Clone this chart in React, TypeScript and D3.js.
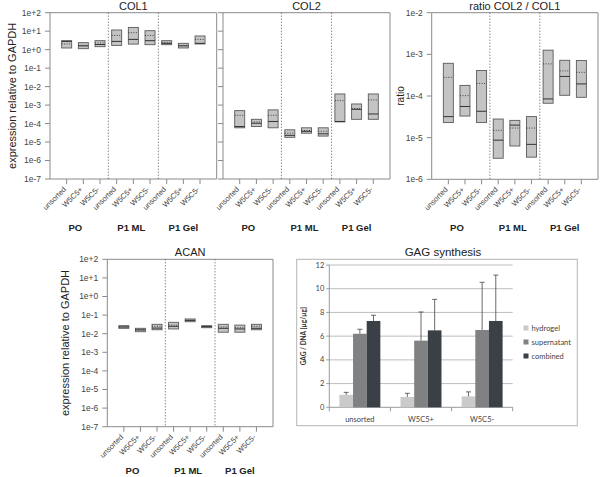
import React from "react";
import * as d3 from "d3";

const categories = ["unsorted", "W5C5+", "W5C5-"];
const groups = ["PO", "P1 ML", "P1 Gel"];
const groupLabelShift = [-8, -2, 0];

const exprTicks = ["1e+2", "1e+1", "1e+0", "1e-1", "1e-2", "1e-3", "1e-4", "1e-5", "1e-6", "1e-7"];
const ratioTicks = ["1e-2", "1e-3", "1e-4", "1e-5", "1e-6"];

const col1Min = [1.23, 1.13, 1.45, 1.7, 2.0, 1.86, 1.86, 1.23, 2.03];
const col1Max = [3.06, 2.39, 3.06, 11.6, 16, 10.6, 3.06, 2.2, 5.5];
const col1Median = [2.8, 1.6, 1.9, 2.8, 3.6, 3.06, 2.2, 1.6, 2.2];
const col1Mean = [2.04, 1.7, 2.3, 5.9, 8.3, 5.9, 2.39, 1.7, 3.6];

const col2Min = [5.9e-5, 6.9e-5, 5.9e-5, 1.8e-5, 3.0e-5, 2.1e-5, 1.23e-4, 1.7e-4, 1.7e-4];
const col2Max = [5e-4, 1.7e-4, 5.5e-4, 4.6e-5, 5.9e-5, 5.9e-5, 4.0e-3, 1.15e-3, 4.0e-3];
const col2Median = [6.9e-5, 1.04e-4, 1.3e-4, 2.3e-5, 3.8e-5, 2.8e-5, 1.3e-4, 5.9e-4, 3.3e-4];
const col2Mean = [2.8e-4, 1.23e-4, 2.8e-4, 3e-5, 4.2e-5, 3.8e-5, 1.75e-3, 6.5e-4, 1.9e-3];

const ratioMin = [2.3e-5, 3.3e-5, 2.3e-5, 3.2e-6, 6.3e-6, 3.4e-6, 6.7e-5, 1.04e-4, 9.3e-5];
const ratioMax = [6.1e-4, 1.8e-4, 4.1e-4, 2.8e-5, 2.6e-5, 3.2e-5, 1.26e-3, 7.2e-4, 7.1e-4];
const ratioMedian = [3.2e-5, 5.6e-5, 4.3e-5, 8.7e-6, 2.0e-5, 6.9e-6, 8.5e-5, 2.95e-4, 1.95e-4];
const ratioMean = [2.8e-4, 1.02e-4, 2.0e-4, 1.5e-5, 1.7e-5, 1.7e-5, 5.9e-4, 4.0e-4, 3.7e-4];

const acanMin = [0.0195, 0.0128, 0.0163, 0.018, 0.044, 0.021, 0.012, 0.012, 0.0163];
const acanMax = [0.027, 0.0195, 0.032, 0.041, 0.062, 0.027, 0.032, 0.029, 0.032];
const acanMedian = [0.023, 0.016, 0.02, 0.025, 0.052, 0.024, 0.0195, 0.018, 0.0195];
const acanMean = [0.023, 0.0163, 0.025, 0.029, 0.052, 0.024, 0.023, 0.021, 0.025];

const gagCategories = ["unsorted", "W5C5+", "W5C5-"];
const gagSeries = ["hydrogel", "supernatant", "combined"];
const hydrogel = [1.05, 0.88, 0.92];
const hydrogelErr = [0.21, 0.3, 0.38];
const supernatant = [6.2, 5.62, 6.52];
const supernatantErr = [0.38, 2.42, 4.02];
const combined = [7.28, 6.49, 7.28];
const combinedErr = [0.48, 2.61, 3.87];
const gagTicks = [0, 2, 4, 6, 8, 10, 12];

const FONT = "'Liberation Sans', Arial, sans-serif";
const AX = "#8a8a8a";

type PanelProps = {
  x0: number; x1: number; yTop: number; yBot: number;
  domain: [number, number];
  tickLabels: string[];
  showTickLabels: boolean;
  mins: number[]; maxs: number[]; medians: number[]; means: number[];
  title: string;
  ylabel?: string; ylabelX?: number; ylabelSize?: number;
  groupY: number;
  catSize: number;
};

function BoxPanel(p: PanelProps) {
  const y = d3.scaleLog().domain(p.domain).range([p.yBot, p.yTop]);
  const idx = d3.range(9);
  const x = d3.scalePoint<number>().domain(idx).range([p.x0, p.x1]).padding(1);
  const bw = 10;
  const tickVals = p.tickLabels.map((t) => +t);
  const dividers = [2, 5].map((i) => (x(i)! + x(i + 1)!) / 2);
  return (
    <g>
      <line x1={p.x0} x2={p.x1} y1={p.yTop} y2={p.yTop} stroke={AX} strokeWidth={1} />
      <line x1={p.x1} x2={p.x1} y1={p.yTop} y2={p.yBot} stroke={AX} strokeWidth={1} />
      <line x1={p.x0} x2={p.x0} y1={p.yTop} y2={p.yBot} stroke={AX} strokeWidth={1} />
      <line x1={p.x0} x2={p.x1} y1={p.yBot} y2={p.yBot} stroke={AX} strokeWidth={1} />
      {tickVals.map((v, i) => (
        <g key={i}>
          <line x1={p.x0 - 5} x2={p.x0} y1={y(v)} y2={y(v)} stroke={AX} />
          {p.showTickLabels && (
            <text x={p.x0 - 9} y={y(v)} dy="0.35em" textAnchor="end" fontSize={8.5} fill="#444" fontFamily={FONT}>
              {p.tickLabels[i]}
            </text>
          )}
        </g>
      ))}
      {dividers.map((dx, i) => (
        <line key={i} x1={dx} x2={dx} y1={p.yTop} y2={p.yBot} stroke="#555" strokeWidth={1} strokeDasharray="1,2" />
      ))}
      {idx.map((i) => {
        const cx = x(i)!;
        const yMax = y(p.maxs[i]);
        const yMin = y(p.mins[i]);
        return (
          <g key={i}>
            <rect x={cx - bw / 2} y={yMax} width={bw} height={Math.max(1.5, yMin - yMax)} fill="#c4c4c4" stroke="#5a5a5a" strokeWidth={0.9} />
            <line x1={cx - bw / 2} x2={cx + bw / 2} y1={y(p.medians[i])} y2={y(p.medians[i])} stroke="#333" strokeWidth={1} />
            <line x1={cx - bw / 2} x2={cx + bw / 2} y1={y(p.means[i])} y2={y(p.means[i])} stroke="#333" strokeWidth={0.9} strokeDasharray="1,1.5" />
            <line x1={cx} x2={cx} y1={p.yBot} y2={p.yBot + 5} stroke={AX} />
            <text
              transform={`translate(${cx - 2},${p.yBot + 9}) rotate(-45)`}
              textAnchor="end"
              dy="0.35em"
              fontSize={p.catSize}
              fill="#444"
              fontFamily={FONT}
            >
              {categories[i % 3]}
            </text>
          </g>
        );
      })}
      {groups.map((g, gi) => (
        <text key={g} x={x(gi * 3 + 1)! + groupLabelShift[gi]} y={p.groupY} textAnchor="middle" fontSize={9.5} fontWeight="bold" fill="#222" fontFamily={FONT}>
          {g}
        </text>
      ))}
      <text x={(p.x0 + p.x1) / 2} y={p.yTop - 3} textAnchor="middle" fontSize={11} fill="#222" fontFamily={FONT}>
        {p.title}
      </text>
      {p.ylabel && (
        <text transform={`translate(${p.ylabelX},${(p.yTop + p.yBot) / 2}) rotate(-90)`} textAnchor="middle" dy="0.35em" fontSize={p.ylabelSize} fill="#222" fontFamily={FONT}>
          {p.ylabel}
        </text>
      )}
    </g>
  );
}

function GagChart() {
  const GF = "Lato, 'Open Sans', sans-serif";
  const left = 329.3, right = 512.7, top = 265, bottom = 407.3;
  const y = d3.scaleLinear().domain([0, 12]).range([bottom, top]);
  const x0 = d3.scaleBand<string>().domain(gagCategories).range([left, right]).paddingInner(0.33).paddingOuter(0.165);
  const x1 = d3.scaleBand<string>().domain(gagSeries).range([0, x0.bandwidth()]);
  const vals = [hydrogel, supernatant, combined];
  const errs = [hydrogelErr, supernatantErr, combinedErr];
  const colors = ["#cacaca", "#7f8183", "#3b4046"];
  const boundaries = d3.range(4).map((i) => left + (i * (right - left)) / 3);
  return (
    <g>
      <rect x={296.7} y={259.3} width={280.6} height={166.4} fill="white" stroke="#b5b5b5" strokeWidth={1} />
      <text x={443} y={256} textAnchor="middle" fontSize={11.5} fill="#222" fontFamily={FONT}>GAG synthesis</text>
      {gagTicks.map((t) => (
        <g key={t}>
          <line x1={left} x2={right} y1={y(t)} y2={y(t)} stroke={t === 0 ? "#9a9a9a" : "#bdbdbd"} strokeWidth={1} />
          <line x1={left - 3} x2={left} y1={y(t)} y2={y(t)} stroke="#9a9a9a" />
          <text x={left - 5} y={y(t)} dy="0.35em" textAnchor="end" fontSize={7.5} fill="#444" fontFamily={GF}>{t}</text>
        </g>
      ))}
      <line x1={left} x2={left} y1={top} y2={bottom} stroke="#9a9a9a" />
      {boundaries.map((b, i) => (
        <line key={i} x1={b} x2={b} y1={bottom} y2={bottom + 4} stroke="#9a9a9a" />
      ))}
      {gagCategories.map((c, ci) => (
        <g key={c}>
          {gagSeries.map((s, si) => {
            const bx = x0(c)! + x1(s)!;
            const v = vals[si][ci];
            const e = errs[si][ci];
            const cx = bx + x1.bandwidth() / 2;
            return (
              <g key={s}>
                <rect x={bx} y={y(v)} width={x1.bandwidth()} height={bottom - y(v)} fill={colors[si]} />
                <line x1={cx} x2={cx} y1={y(v)} y2={y(v + e)} stroke="#444" strokeWidth={0.8} />
                <line x1={cx - 2.5} x2={cx + 2.5} y1={y(v + e)} y2={y(v + e)} stroke="#444" strokeWidth={0.8} />
              </g>
            );
          })}
          <text x={x0(c)! + x0.bandwidth() / 2} y={422} textAnchor="middle" fontSize={7.5} fill="#444" fontFamily={GF}>{c}</text>
        </g>
      ))}
      <text transform={`translate(303.5,${(top + bottom) / 2}) rotate(-90)`} textAnchor="middle" dy="0.35em" fontSize={6.5} fontWeight="bold" fill="#333" fontFamily={GF}>
        GAG / DNA [µg/µg]
      </text>
      {gagSeries.map((s, si) => (
        <g key={s}>
          <rect x={523.5} y={328 + si * 14 - 2.5} width={5} height={5} fill={colors[si]} />
          <text x={531.5} y={328 + si * 14} dy="0.35em" fontSize={7.5} fill="#444" fontFamily={GF}>{s}</text>
        </g>
      ))}
    </g>
  );
}

export default function App() {
  return (
    <svg width={600} height={477} style={{ position: "absolute", left: 0, top: 0, background: "white" }}>
      <rect x={0} y={0} width={600} height={477} fill="white" />
      <BoxPanel x0={50} x1={216.7} yTop={12.7} yBot={179} domain={[1e-7, 1e2]} tickLabels={exprTicks} showTickLabels={true}
        mins={col1Min} maxs={col1Max} medians={col1Median} means={col1Mean} title="COL1"
        ylabel="expression relative to GAPDH" ylabelX={12} ylabelSize={11} groupY={231} catSize={7.5} />
      <BoxPanel x0={223} x1={390} yTop={12.7} yBot={179} domain={[1e-7, 1e2]} tickLabels={exprTicks} showTickLabels={false}
        mins={col2Min} maxs={col2Max} medians={col2Median} means={col2Mean} title="COL2" groupY={231} catSize={7.5} />
      <BoxPanel x0={431.7} x1={598} yTop={12.7} yBot={179.3} domain={[1e-6, 1e-2]} tickLabels={ratioTicks} showTickLabels={true}
        mins={ratioMin} maxs={ratioMax} medians={ratioMedian} means={ratioMean} title="ratio COL2 / COL1"
        ylabel="ratio" ylabelX={400} ylabelSize={10} groupY={231} catSize={7.5} />
      <BoxPanel x0={107.3} x1={273} yTop={259.3} yBot={426.7} domain={[1e-7, 1e2]} tickLabels={exprTicks} showTickLabels={true}
        mins={acanMin} maxs={acanMax} medians={acanMedian} means={acanMean} title="ACAN"
        ylabel="expression relative to GAPDH" ylabelX={65} ylabelSize={11} groupY={474} catSize={7.5} />
      <GagChart />
    </svg>
  );
}
